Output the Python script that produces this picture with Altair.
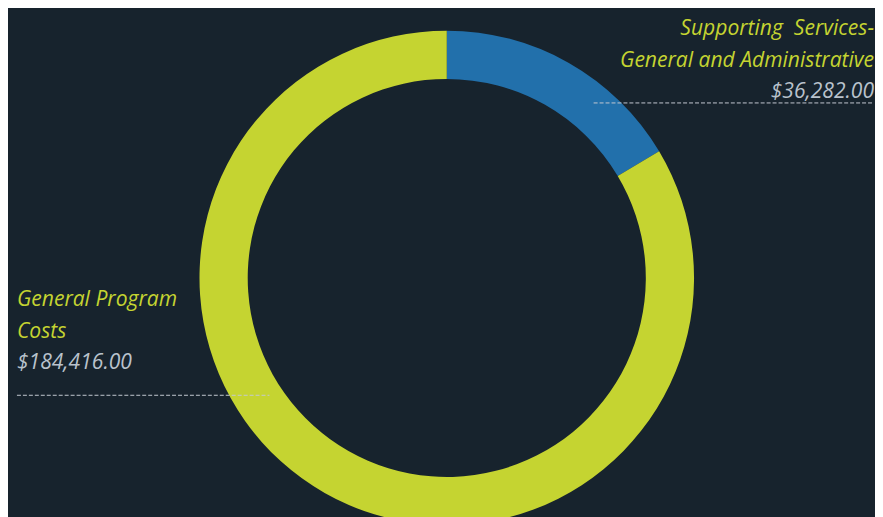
import altair as alt
import pandas as pd

categories = ["Supporting \u00a0Services-\nGeneral and Administrative", "General Program\nCosts"]
values = [36282.00, 184416.00]
order = [0, 1]
colors = ["#2270ab", "#c5d431"]

BG = "#17232d"
LABEL = "#c5d431"
VALUE = "#b9c2cc"
DASH = "#c3c9d1"

df = pd.DataFrame({"category": categories, "value": values, "order": order})
base = alt.Chart(df)

arc = base.mark_arc(radius=248.7, radius2=200.2).encode(
    theta=alt.Theta("value:Q", stack=True),
    color=alt.Color("category:N", scale=alt.Scale(domain=categories, range=colors), legend=None),
    order=alt.Order("order:Q"),
    x=alt.value(441.3),
    y=alt.value(270),
)

txt_kw = dict(font="Open Sans", fontStyle="italic", fontSize=21.2, lineBreak="\n", lineHeight=31.5, baseline="alphabetic")

top = base.transform_filter(alt.datum.order == 0)
left = base.transform_filter(alt.datum.order == 1)

top_label = top.mark_text(align="right", color=LABEL, **txt_kw).encode(
    text="category:N", x=alt.value(871), y=alt.value(26))
top_value = top.mark_text(align="right", color=VALUE, **txt_kw).encode(
    text=alt.Text("value:Q", format="$,.2f"), x=alt.value(871), y=alt.value(89))
top_rule = top.mark_rule(color=DASH, strokeDash=[4, 2], strokeWidth=1).encode(
    x=alt.value(589), x2=alt.value(871), y=alt.value(94))

left_label = left.mark_text(align="left", color=LABEL, **txt_kw).encode(
    text="category:N", x=alt.value(9), y=alt.value(298.7))
left_value = left.mark_text(align="left", color=VALUE, **txt_kw).encode(
    text=alt.Text("value:Q", format="$,.2f"), x=alt.value(9), y=alt.value(362))
left_rule = left.mark_rule(color=DASH, strokeDash=[4, 2], strokeWidth=1).encode(
    x=alt.value(9), x2=alt.value(263), y=alt.value(388))

chart = alt.layer(arc, top_rule, left_rule, top_label, top_value, left_label, left_value).properties(
    width=867, height=520, padding=0, background=BG,
).configure_view(stroke=None)

chart.save("out.html", embed_options={"renderer": "svg", "actions": False})
